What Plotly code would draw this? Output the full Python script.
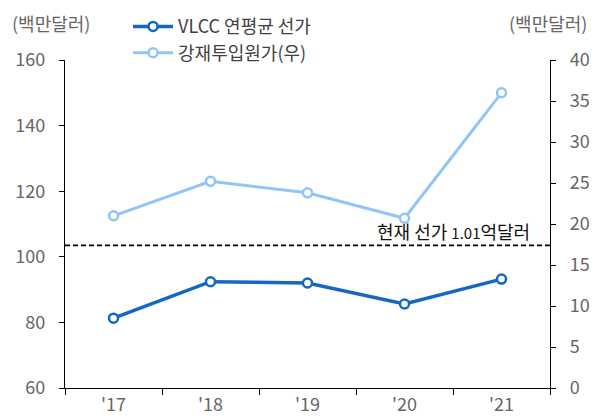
import plotly.graph_objects as go

categories = ["'17", "'18", "'19", "'20", "'21"]
vlcc_price = [81.3, 92.4, 92.0, 85.6, 93.2]
steel_cost = [21.0, 25.2, 23.8, 20.7, 36.0]
current_price_line = 103.5

FONT = "Noto Sans CJK KR"
dark = "#1467C4"
light = "#92C5F7"
GREY = "#666666"

fig = go.Figure()
fig.add_trace(go.Scatter(
    x=categories, y=vlcc_price, name="VLCC 연평균 선가", mode="lines+markers",
    line=dict(color=dark, width=3.5),
    marker=dict(symbol="circle", size=9, color="white", line=dict(color=dark, width=2.5)),
    yaxis="y"))
fig.add_trace(go.Scatter(
    x=categories, y=steel_cost, name="강재투입원가(우)", mode="lines+markers",
    line=dict(color=light, width=3),
    marker=dict(symbol="circle", size=9, color="white", line=dict(color=light, width=2.5)),
    yaxis="y2"))

fig.add_shape(type="line", xref="paper", x0=0, x1=1, yref="y", y0=current_price_line, y1=current_price_line,
              line=dict(color="black", width=1.8, dash="5px,3px"))
fig.add_annotation(xref="paper", x=0.962, yref="y", y=current_price_line, xanchor="right", yanchor="bottom",
                   text="현재 선가 <span style='font-size:15px'>1.01</span>억달러", showarrow=False,
                   font=dict(family=FONT, size=18, color="#111111"), yshift=-1)

fig.add_annotation(xref="paper", yref="paper", x=-0.113, y=1.158, xanchor="left", yanchor="top",
                   text="(백만달러)", showarrow=False, font=dict(family=FONT, size=18, color=GREY))
fig.add_annotation(xref="paper", yref="paper", x=1.081, y=1.158, xanchor="right", yanchor="top",
                   text="(백만달러)", showarrow=False, font=dict(family=FONT, size=18, color=GREY))

fig.update_layout(
    width=591, height=410,
    margin=dict(l=57, r=49, t=52, b=30, autoexpand=False),
    paper_bgcolor="white", plot_bgcolor="white",
    font=dict(family=FONT, size=18, color=GREY),
    showlegend=True,
    legend=dict(x=0.13, y=1.158, xanchor="left", yanchor="top", bgcolor="rgba(0,0,0,0)",
                font=dict(family=FONT, size=18, color="#404040"), tracegroupgap=0,
                itemwidth=40),
    xaxis=dict(showline=True, linecolor="black", linewidth=1.2, ticks="outside", ticklen=6,
               tickcolor="black", tickson="boundaries", showgrid=False, zeroline=False,
               tickfont=dict(size=18, color=GREY), range=[-0.5, 4.5]),
    yaxis=dict(range=[60, 160], dtick=20, showline=True, linecolor="black", linewidth=1.2,
               ticks="outside", ticklen=5, tickcolor="black", showgrid=False, zeroline=False,
               ticklabelstandoff=10, tickfont=dict(size=18, color=GREY)),
    yaxis2=dict(range=[0, 40], dtick=5, overlaying="y", side="right", showline=True,
                linecolor="black", linewidth=1.2, ticks="outside", ticklen=5, tickcolor="black",
                showgrid=False, zeroline=False, ticklabelstandoff=10,
                tickfont=dict(size=18, color=GREY)),
)

fig.write_html("out.html")
